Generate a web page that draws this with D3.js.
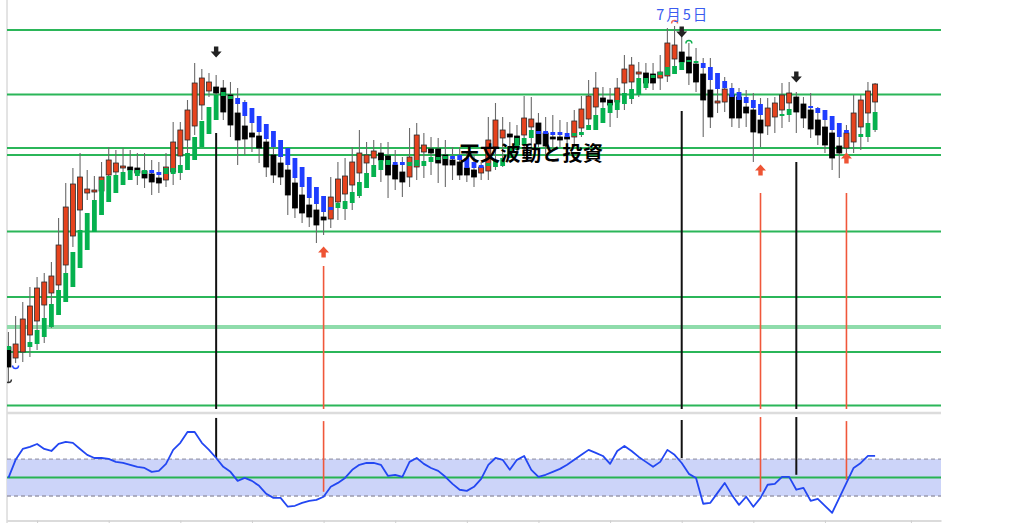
<!DOCTYPE html>
<html><head><meta charset="utf-8">
<script src="https://cdn.jsdelivr.net/npm/d3@7"></script>
<style>html,body{margin:0;padding:0;background:#fff;}svg{display:block;}</style>
</head><body>
<svg id="c" width="1013" height="523"></svg>
<script>
// ---------- DATA ----------
const opens = [153,142,148,165,179,195,207,215,235,264, 290,307,308,309,325,328,332,333,332,329, 326,322,320,328,344,360,374,395,409,413, 412,405,387,374,367,364,358,345,337,330, 317,305,295,290,283,281,298,306,315,327, 337,342,347,344,335,328,323,333,348,351, 351,345,340,338,332,330,327,329,353,362, 366,364,365,373,377,367,363,363,363,363, 372,381,393,402,400,398,417,418,426,427, 426,422,424,441,448,443,436,426,410,397, 398,405,403,393,390,380,374,383,390,397, 403,396,390,380,373,367,354,352,358,373, 387,398];
const highs = [168,184,198,213,223,227,238,282,317,332, 347,330,324,338,353,350,352,350,347,347, 340,338,347,378,378,400,437,431,427,425, 420,418,412,400,385,380,375,358,352,343, 325,317,305,300,297,323,338,342,353,370, 358,360,357,358,350,343,372,377,367,363, 362,360,353,353,348,345,338,383,397,383, 378,375,404,403,387,383,385,380,378,390, 404,420,428,413,412,422,445,443,438,437, 437,445,472,474,470,457,452,442,442,423, 423,417,412,410,407,402,402,403,417,418, 408,403,407,393,382,380,367,375,405,405, 418,417];
const lows = [118,137,138,143,150,157,172,200,212,253, 267,300,300,300,302,323,315,320,315,312, 305,307,313,315,320,333,365,380,403,390, 380,363,335,345,348,337,323,317,315,285, 282,277,273,257,265,272,280,280,290,302, 318,325,318,302,310,303,313,320,322,325, 317,313,320,320,318,313,320,320,330,333, 343,348,343,348,348,345,352,353,353,353, 363,373,385,390,373,382,390,396,403,410, 410,410,418,428,430,415,408,363,372,387, 388,373,372,373,338,353,365,367,372,378, 367,372,362,355,347,330,322,347,347,350, 358,368];
const closes = [133,156,181,194,212,218,224,255,293,316, 323,311,310,323,340,337,334,330,327,322, 318,317,333,358,370,390,417,422,418,407, 388,375,360,361,363,352,333,325,323,305, 292,287,283,275,280,303,321,324,338,347, 345,349,340,325,321,318,343,365,355,347, 337,335,335,325,325,323,333,360,380,370, 363,355,382,381,356,354,361,360,361,379, 391,404,412,398,395,412,431,435,428,417, 417,428,457,455,438,427,418,400,383,399, 411,382,382,387,368,367,392,397,405,407, 388,382,371,365,355,342,347,367,387,400, 409,416];

// overlay (green = rising, blue = falling) bodies
const overlayOpen = [150,null,null,153,156,163,173,185,198,213, 232,250,268,285,298,307,315,320,324,326, 330,328,326,326,327,330,340,353,366,380, 404,401,402,398,392,384,376,369,360,352, 342,333,323,313,304,293,292,291,297,304, 312,323,330,335,338,338,334,334,334,338, 340,341,344,345,342,338,335,334,333,334, 342,350,355,362,369,369,368,368,367,364, 365,370,370,377,387,390,396,401,405,412, 422,425,425,426,430,438,437,437,433,427, 419,412,408,403,400,396,null,null,384,385, null,null,394,392,390,384,377,370,null,363, 363,370];
const overlayClose = [154,null,null,158,170,182,196,210,227,248, 270,287,300,320,324,325,328,330,330,330, 327,325,332,332,335,347,363,379,393,405, 408,404,396,384,377,368,361,353,343,335, 322,313,302,296,288,290,297,299,308,318, 327,335,340,340,335,335,338,340,339,343, 343,344,341,340,332,332,332,337,340,342, 353,362,362,370,366,366,365,365,363,367, 368,375,385,392,397,400,407,411,422,422, 425,428,433,434,438,440,439,432,420,411, 412,403,400,397,392,385,null,null,386,391, null,null,392,387,380,370,363,367,null,366, 377,388];

// oscillator (lower panel)
const indicator = [-2,96,155,166,182,155,144,182,193,188, 155,123,106,106,101,85,79,69,58,52, 31,36,74,150,188,247,247,188,150,106, 58,31,-18,-2,-18,-45,-88,-110,-110,-158, -153,-137,-126,-121,-104,-50,-29,-2,42,69, 79,79,69,9,15,4,85,106,74,52, 36,4,-34,-66,-72,-50,-7,69,106,96, 42,96,117,42,4,15,31,47,69,96, 123,150,134,117,74,144,171,144,112,85, 58,85,150,123,79,20,-2,-142,-137,-83, -29,-94,-148,-104,-158,-110,-39,-34,4,4, -66,-56,-126,-115,-153,-191,-110,-29,52,79, 117,117];
const indLevels = [100, 0, -100];

// horizontal price levels
const levels = [470, 405.5, 352, 345, 268.5, 203, 173, 148, 94.5];
const softLevel = 173;

// signals
const signalBar   = [29, 44, 94, 105, 110, 117];
const signalDir   = ["sell","buy","sell","buy","sell","buy"];
const signalArrow = [448, 248, 468, 330, 423, 342];
const signalLineTop = [367, 234, 389, 307, 338, 307];
const signalIndTop = [323, 306, 312, 328, 328, 306];
const signalIndEnd = [106, -77, 106, -77, 15, -12];

// small swing markers
const markerBar = [93, 95, 1, 0];
const markerPrice = [478, 458, 133, 119];
const markerKind = ["peakRed","peakGreen","troughBlue","troughBlack"];

// axis ticks (bar indices)
const tickBars = [4,14,24,34,44,54,64,74,84,94,104,114,126];

const dateLabel = "7月5日";
const dateBar = 94;
const titleText = "天文波動と投資";

// ---------- LAYOUT ----------
const L = 7, R = 941;
const mainTop = 0, mainBot = 410, indTopY = 415, indBotY = 520;
const svg = d3.select("#c");

const x = d3.scaleLinear().domain([-0.2, 130.2]).range([L, R]);
const y = d3.scaleLinear().domain([90, 500]).range([mainBot, mainTop]);
const yi = d3.scaleLinear().domain([-230, 339]).range([indBotY, indTopY]);

const defs = svg.append("defs");
defs.append("clipPath").attr("id","mainClip").append("rect")
  .attr("x",L).attr("y",mainTop).attr("width",R-L).attr("height",mainBot-mainTop);
defs.append("clipPath").attr("id","indClip").append("rect")
  .attr("x",L).attr("y",indTopY).attr("width",R-L).attr("height",indBotY-indTopY);

// frame
svg.append("line").attr("x1",L).attr("x2",L).attr("y1",0).attr("y2",523)
  .attr("stroke","#c8c8c8").attr("stroke-width",1);
svg.append("line").attr("x1",L).attr("x2",R).attr("y1",413).attr("y2",413)
  .attr("stroke","#dcdcdc").attr("stroke-width",2.5);

const main = svg.append("g").attr("clip-path","url(#mainClip)");

// price levels
main.selectAll("line.lvl").data(levels).join("line").attr("class","lvl")
  .attr("x1",L).attr("x2",R)
  .attr("y1",d=>y(d)).attr("y2",d=>y(d))
  .attr("stroke",d=>d===softLevel?"#8fdcab":"#2bb659")
  .attr("stroke-width",d=>d===softLevel?4:2);

// signal verticals (main)
const sigIdx = d3.range(signalBar.length);
main.selectAll("line.sig").data(sigIdx).join("line").attr("class","sig")
  .attr("x1",i=>x(signalBar[i])).attr("x2",i=>x(signalBar[i]))
  .attr("y1",i=>y(signalLineTop[i])).attr("y2",mainBot-1)
  .attr("stroke",i=>signalDir[i]==="sell"?"#111":"#f0573a")
  .attr("stroke-width",i=>signalDir[i]==="sell"?2:1.6);

// candles
const bars = d3.range(opens.length);
const bw = 5;
main.selectAll("line.wick").data(bars).join("line").attr("class","wick")
  .attr("x1",i=>x(i)).attr("x2",i=>x(i))
  .attr("y1",i=>y(highs[i])).attr("y2",i=>y(lows[i]))
  .attr("stroke","#6a6a6a").attr("stroke-width",1.1);
main.selectAll("rect.body").data(bars).join("rect").attr("class","body")
  .attr("x",i=>x(i)-bw/2).attr("width",bw)
  .attr("y",i=>y(Math.max(opens[i],closes[i])))
  .attr("height",i=>Math.max(1.5, Math.abs(y(opens[i])-y(closes[i]))))
  .attr("fill",i=>closes[i]>=opens[i]?"#e6431e":"#000")
  .attr("stroke",i=>closes[i]>=opens[i]?"#2a2a2a":"#000")
  .attr("stroke-width",0.8);

// overlay bodies
const ovIdx = bars.filter(i=>overlayOpen[i]!==null);
main.selectAll("rect.ov").data(ovIdx).join("rect").attr("class","ov")
  .attr("x",i=>x(i)-2.4).attr("width",4.8)
  .attr("y",i=>y(Math.max(overlayOpen[i],overlayClose[i])))
  .attr("height",i=>Math.max(2, Math.abs(y(overlayOpen[i])-y(overlayClose[i]))))
  .attr("fill",i=>overlayClose[i]>=overlayOpen[i]?"#05b14e":"#1f3dff");

// arrows
const downArrow = "M-2.2,-5.5H2.2V-0.5H5.5L0,5.5L-5.5,-0.5H-2.2Z";
const upArrow   = "M-2.2,5.5H2.2V0.5H5.5L0,-5.5L-5.5,0.5H-2.2Z";
main.selectAll("path.arrow").data(sigIdx).join("path").attr("class","arrow")
  .attr("transform",i=>`translate(${x(signalBar[i])},${y(signalArrow[i])})`)
  .attr("d",i=>signalDir[i]==="sell"?downArrow:upArrow)
  .attr("fill",i=>signalDir[i]==="sell"?"#222":"#ee5434");

// swing markers
const mColor = {peakRed:"#f06a55", peakGreen:"#10b050", troughBlue:"#2244ff", troughBlack:"#333"};
main.selectAll("path.mk").data(d3.range(markerBar.length)).join("path").attr("class","mk")
  .attr("transform",i=>`translate(${x(markerBar[i])},${y(markerPrice[i])})`)
  .attr("d",i=>markerKind[i].startsWith("peak")?"M-3,1.5A3,3 0 0 1 3,1.5":"M-3,-1.5A3,3 0 0 0 3,-1.5")
  .attr("fill","none").attr("stroke",i=>mColor[markerKind[i]]).attr("stroke-width",1.4);

// ---------- INDICATOR PANEL ----------
const ind = svg.append("g").attr("clip-path","url(#indClip)");
ind.append("rect").attr("x",L).attr("width",R-L)
  .attr("y",yi(100)).attr("height",yi(-100)-yi(100))
  .attr("fill","#ccd4f9");
ind.selectAll("line.il").data(indLevels).join("line").attr("class","il")
  .attr("x1",L).attr("x2",R).attr("y1",d=>yi(d)).attr("y2",d=>yi(d))
  .attr("stroke",d=>d===0?"#27b352":"#9a9aae")
  .attr("stroke-width",d=>d===0?2:1.3)
  .attr("stroke-dasharray",d=>d===0?null:"4,3");
ind.selectAll("line.isig").data(sigIdx).join("line").attr("class","isig")
  .attr("x1",i=>x(signalBar[i])).attr("x2",i=>x(signalBar[i]))
  .attr("y1",i=>yi(signalIndTop[i])).attr("y2",i=>yi(signalIndEnd[i]))
  .attr("stroke",i=>signalDir[i]==="sell"?"#111":"#f0573a")
  .attr("stroke-width",i=>signalDir[i]==="sell"?2:1.6);
ind.append("path").datum(bars)
  .attr("d", d3.line().x(i=>x(i)).y(i=>yi(indicator[i])))
  .attr("fill","none").attr("stroke","#2347f2").attr("stroke-width",1.8)
  .attr("stroke-linejoin","round");

// bottom axis
const axis = d3.axisBottom(x).tickValues(tickBars).tickSize(3).tickSizeOuter(0).tickFormat("");
const ax = svg.append("g").attr("transform",`translate(0,${indBotY+0.5})`).call(axis);
ax.select(".domain").attr("stroke","#cfcfcf").attr("stroke-width",1.5);
ax.selectAll(".tick line").attr("stroke","#cfcfcf");

// ---------- TEXT ----------
svg.append("text").attr("x",x(dateBar)+1).attr("y",19.5)
  .attr("text-anchor","middle")
  .attr("font-family","'Noto Sans CJK JP','Noto Sans',sans-serif")
  .attr("font-size",14.5).attr("letter-spacing","2px")
  .attr("fill","#3a5cf0").text(dateLabel);
svg.append("text").attr("x",531.5).attr("y",161)
  .attr("text-anchor","middle")
  .attr("font-family","'Noto Sans CJK JP','Noto Sans',sans-serif")
  .attr("font-size",20).attr("font-weight","bold").attr("letter-spacing","0.6px")
  .attr("fill","#000").text(titleText);
</script>
</body></html>
